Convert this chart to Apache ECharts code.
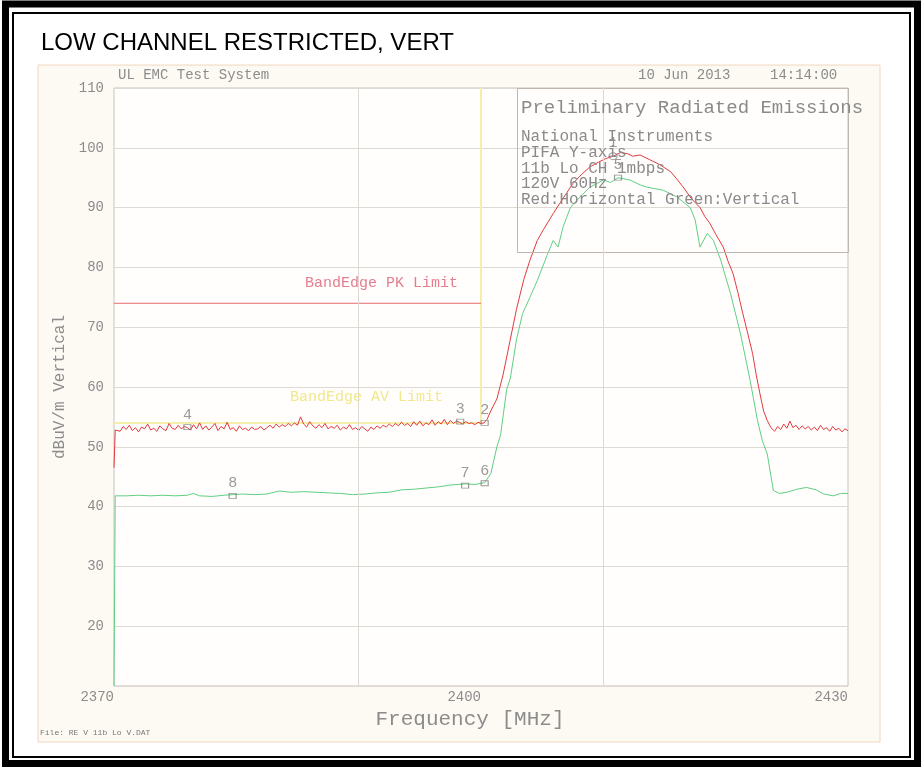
<!DOCTYPE html>
<html>
<head>
<meta charset="utf-8">
<script src="https://cdn.jsdelivr.net/npm/echarts@6/dist/echarts.min.js"></script>
<style>
html,body{margin:0;padding:0;background:#ffffff;}
#chart{width:923px;height:767px;}
</style>
</head>
<body>
<div id="chart"></div>
<script>
// ---- Data ----
const xTickLabels = [2370, 2400, 2430];
const xGridLines = [2390, 2410];
const yTickLabels = [20, 30, 40, 50, 60, 70, 80, 90, 100, 110];

// Red trace: Horizontal polarisation  [MHz, dBuV/m]
const redTrace = [
[2370.0,46.5],[2370.1,52.8],[2370.25,53.1],[2370.5,52.6],[2370.75,53.4],[2371.0,52.9],[2371.25,53.6],[2371.5,52.7],[2371.75,53.2],
[2372.0,52.5],[2372.25,53.3],[2372.5,53.0],[2372.75,53.8],[2373.0,52.8],[2373.25,53.1],[2373.5,52.6],[2373.75,53.5],
[2374.0,53.0],[2374.25,52.7],[2374.5,53.9],[2374.75,53.1],[2375.0,52.9],[2375.25,53.6],[2375.5,53.0],[2375.75,53.4],
[2376.0,53.2],[2376.25,52.8],[2376.5,53.7],[2376.75,53.0],[2377.0,54.0],[2377.25,52.9],[2377.5,53.5],[2377.75,52.8],
[2378.0,53.3],[2378.25,53.9],[2378.5,52.7],[2378.75,53.4],[2379.0,53.0],[2379.25,54.1],[2379.5,52.9],[2379.75,53.2],
[2380.0,52.6],[2380.25,53.5],[2380.5,52.9],[2380.75,53.1],[2381.0,52.7],[2381.25,53.3],[2381.5,52.9],[2381.75,53.0],
[2382.0,53.4],[2382.25,52.8],[2382.5,53.2],[2382.75,53.6],[2383.0,53.1],[2383.25,53.8],[2383.5,53.3],[2383.75,53.7],
[2384.0,53.4],[2384.25,53.9],[2384.5,53.5],[2384.75,54.0],[2385.0,53.6],[2385.25,55.0],[2385.5,53.8],[2385.75,53.3],
[2386.0,54.2],[2386.25,53.5],[2386.5,53.1],[2386.75,53.7],[2387.0,53.2],[2387.25,53.9],[2387.5,53.0],[2387.75,53.4],
[2388.0,53.1],[2388.25,53.6],[2388.5,52.8],[2388.75,53.3],[2389.0,53.0],[2389.25,53.7],[2389.5,52.9],[2389.75,53.2],
[2390.0,52.7],[2390.25,53.4],[2390.5,53.0],[2390.75,52.6],[2391.0,53.3],[2391.25,52.9],[2391.5,53.5],[2391.75,53.1],
[2392.0,53.6],[2392.25,53.3],[2392.5,53.8],[2392.75,53.4],[2393.0,53.9],[2393.25,53.5],[2393.5,54.1],[2393.75,53.6],
[2394.0,53.9],[2394.25,53.4],[2394.5,54.2],[2394.75,53.6],[2395.0,54.3],[2395.25,53.5],[2395.5,54.0],[2395.75,53.7],
[2396.0,54.5],[2396.25,53.6],[2396.5,54.2],[2396.75,53.8],[2397.0,54.6],[2397.25,53.7],[2397.5,54.4],[2397.75,53.9],
[2398.0,54.3],[2398.25,54.1],[2398.5,53.8],[2398.75,54.2],[2399.0,53.9],[2399.25,54.0],[2399.5,53.7],[2399.75,54.1],
[2400.0,53.9],[2400.25,54.0],[2400.5,54.6],[2400.8,56.0],[2401.3,58.0],[2401.8,62.0],[2402.3,67.0],[2402.9,73.0],
[2403.5,78.0],[2404.0,81.2],[2404.6,84.5],[2405.1,86.3],[2405.9,89.0],[2406.6,91.2],[2407.5,94.0],[2408.2,95.5],
[2408.9,96.8],[2409.6,97.6],[2410.2,98.2],[2410.8,98.6],[2411.4,99.2],[2412.0,99.0],[2412.4,98.6],[2413.0,98.8],
[2413.8,98.0],[2414.6,97.2],[2415.5,96.0],[2416.0,94.8],[2416.5,93.5],[2417.2,91.5],[2417.9,90.0],[2418.3,88.5],
[2418.7,87.4],[2419.2,85.5],[2419.8,83.4],[2420.2,81.0],[2420.6,79.0],[2421.0,75.8],[2421.4,72.3],[2421.8,69.0],
[2422.2,65.6],[2422.5,62.0],[2422.8,58.9],[2423.1,56.0],[2423.4,54.4],[2423.7,53.2],[2424.0,52.6],[2424.25,53.4],
[2424.5,52.9],[2424.75,53.8],[2425.0,53.1],[2425.25,54.3],[2425.5,53.2],[2425.75,53.6],[2426.0,52.9],[2426.25,53.5],
[2426.5,53.0],[2426.75,53.4],[2427.0,52.8],[2427.25,53.3],[2427.5,52.7],[2427.75,53.6],[2428.0,52.9],[2428.25,53.2],
[2428.5,52.6],[2428.75,53.4],[2429.0,52.8],[2429.25,53.1],[2429.5,52.5],[2429.75,53.0],[2430.0,52.7]
];

// Green trace: Vertical polarisation  [MHz, dBuV/m]
const greenTrace = [
[2370.0,10.0],[2370.1,41.8],[2371.0,41.8],[2372.0,41.9],[2373.0,41.8],[2374.0,41.9],[2375.0,41.8],[2376.0,41.9],
[2376.5,42.2],[2377.0,41.8],[2378.0,41.7],[2379.0,41.9],[2379.7,42.0],[2380.5,42.1],[2381.5,42.0],[2382.5,42.1],
[2383.5,42.6],[2384.5,42.4],[2385.5,42.5],[2386.5,42.4],[2387.5,42.3],[2388.5,42.2],[2389.5,42.0],[2390.5,42.1],
[2391.5,42.3],[2392.5,42.4],[2393.5,42.8],[2394.5,42.9],[2395.5,43.1],[2396.5,43.3],[2397.5,43.6],[2398.7,43.8],
[2399.5,43.7],[2400.3,44.0],[2400.8,45.5],[2401.3,50.0],[2401.6,52.0],[2402.1,59.6],[2402.4,61.5],[2402.9,67.9],
[2403.4,72.3],[2404.0,75.0],[2404.6,77.8],[2405.4,82.0],[2405.9,84.5],[2406.3,83.4],[2406.7,86.7],[2407.3,90.0],
[2408.1,91.8],[2408.9,93.4],[2410.0,94.6],[2410.6,94.2],[2411.2,95.0],[2412.2,94.6],[2413.0,93.8],[2413.6,93.4],
[2414.9,92.9],[2416.0,91.8],[2417.1,90.0],[2417.5,88.0],[2417.9,83.4],[2418.5,85.7],[2419.0,84.5],[2419.6,81.2],
[2420.4,75.6],[2421.2,69.0],[2422.0,61.1],[2422.6,54.4],[2423.0,51.0],[2423.4,48.8],[2423.9,42.7],[2424.4,42.2],
[2425.0,42.4],[2425.8,42.9],[2426.6,43.2],[2427.4,42.8],[2428.0,42.1],[2428.8,41.8],[2429.4,42.2],[2430.0,42.2]
];

// Limit lines
const pkLimitFreq = [2370, 2400];
const pkLimitLevel = [74, 74];
const avLimitFreq = [2370, 2400, 2400];
const avLimitLevel = [54, 54, 110];

// Markers
const markerLabel = ['1', '2', '3', '4', '5', '6', '7', '8'];
const markerFreq  = [2410.8, 2400.3, 2398.3, 2376.0, 2411.2, 2400.3, 2398.7, 2379.7];
const markerLevel = [98.6, 54.0, 54.2, 53.3, 95.0, 43.9, 43.5, 41.8];

// Info box text
const infoTitle = 'Preliminary Radiated Emissions';
const infoLines = ['National Instruments', 'PIFA Y-axis', '11b Lo CH 1mbps', '120V 60Hz', 'Red:Horizontal Green:Vertical'];

// ---- Chart ----
const MONO = '"Liberation Mono", "DejaVu Sans Mono", monospace';
const GREY = '#8c8c8c';
const GRID = '#dfd9d3';

const chart = echarts.init(document.getElementById('chart'), null, {renderer: 'canvas'});

const zip = (a, b) => a.map((v, i) => [v, b[i]]);

const markerData = markerFreq.map((f, i) => ({
  value: [f, markerLevel[i], markerLabel[i]],
  symbol: markerLabel[i] === '1' ? 'circle' : 'rect',
  symbolSize: markerLabel[i] === '1' ? [8, 7] : [7, 5]
}));

const infoTexts = infoLines.map((t, i) => ({
  type: 'text', z: 100,
  style: {text: t, x: 521, y: 137 + i * 15.7, font: '16px ' + MONO, fill: '#8a8a8a', verticalAlign: 'middle'}
}));

const option = {
  animation: false,
  backgroundColor: '#ffffff',
  graphic: [
    {type: 'rect', z: -10, shape: {x: 38, y: 65, width: 842, height: 677}, style: {fill: '#fdf9f3', stroke: '#f1d6bf', lineWidth: 1}},
    {type: 'rect', z: 100, shape: {x: 5.5, y: 4, width: 912, height: 759.5}, style: {fill: 'none', stroke: '#000', lineWidth: 7}},
    {type: 'rect', z: 100, shape: {x: 13, y: 13, width: 897, height: 744}, style: {fill: 'none', stroke: '#000', lineWidth: 2}},
    {type: 'text', z: 100, style: {text: 'LOW CHANNEL RESTRICTED, VERT', x: 41, y: 43, font: '24px "Liberation Sans", Arial, sans-serif', fill: '#000', verticalAlign: 'middle'}},
    {type: 'text', z: 100, style: {text: 'UL EMC Test System', x: 118, y: 75, font: '14px ' + MONO, fill: GREY, verticalAlign: 'middle'}},
    {type: 'text', z: 100, style: {text: '10 Jun 2013', x: 638, y: 75, font: '14px ' + MONO, fill: GREY, verticalAlign: 'middle'}},
    {type: 'text', z: 100, style: {text: '14:14:00', x: 770, y: 75, font: '14px ' + MONO, fill: GREY, verticalAlign: 'middle'}},
    {type: 'rect', z: 5, shape: {x: 517.5, y: 88.5, width: 331, height: 164}, style: {fill: 'none', stroke: '#bfb7af', lineWidth: 1}},
    {type: 'text', z: 100, style: {text: infoTitle, x: 521, y: 108, font: '19px ' + MONO, fill: '#8a8a8a', verticalAlign: 'middle'}},
    ...infoTexts,
    {type: 'text', z: 100, style: {text: 'BandEdge PK Limit', x: 305, y: 283, font: '15px ' + MONO, fill: '#e47d8e', verticalAlign: 'middle'}},
    {type: 'text', z: 100, style: {text: 'BandEdge AV Limit', x: 290, y: 397, font: '15px ' + MONO, fill: '#f1e78c', verticalAlign: 'middle'}},
    {type: 'text', z: 100, style: {text: 'File: RE V 11b Lo V.DAT', x: 40, y: 733, font: '8px ' + MONO, fill: '#777', verticalAlign: 'middle'}}
  ],
  grid: {left: 114, right: 75, top: 88, bottom: 81, show: true, backgroundColor: '#fffefc', borderColor: '#c9c2bb', borderWidth: 1},
  xAxis: {
    type: 'value', min: 2370, max: 2430, interval: 30,
    axisLine: {show: false}, axisTick: {show: false}, splitLine: {show: false},
    axisLabel: {fontFamily: MONO, fontSize: 14, color: GREY, align: 'right', margin: 4,
      formatter: v => xTickLabels.indexOf(v) >= 0 ? String(v) : ''},
    name: 'Frequency [MHz]', nameLocation: 'middle', nameGap: 23,
    nameTextStyle: {fontFamily: MONO, fontSize: 21, color: GREY, padding: [0, 22, 0, 0]}
  },
  yAxis: {
    type: 'value', min: 10, max: 110, interval: 10,
    axisLine: {show: false}, axisTick: {show: false},
    splitLine: {show: true, lineStyle: {color: GRID, width: 1}},
    axisLabel: {fontFamily: MONO, fontSize: 14, color: GREY, margin: 10,
      formatter: v => yTickLabels.indexOf(v) >= 0 ? String(v) : ''},
    name: 'dBuV/m Vertical', nameLocation: 'middle', nameGap: 45, nameRotate: 90,
    nameTextStyle: {fontFamily: MONO, fontSize: 16, color: GREY}
  },
  series: [
    {
      type: 'line', data: [], z: 1, silent: true,
      markLine: {silent: true, symbol: 'none', label: {show: false},
        lineStyle: {color: GRID, type: 'solid', width: 1},
        data: xGridLines.map(f => ({xAxis: f}))}
    },
    {
      name: 'AV Limit', type: 'line', data: zip(avLimitFreq, avLimitLevel), z: 2,
      showSymbol: false, lineStyle: {color: '#f4eea8', width: 2}, silent: true
    },
    {
      name: 'PK Limit', type: 'line', data: zip(pkLimitFreq, pkLimitLevel), z: 2,
      showSymbol: false, lineStyle: {color: '#e46c6e', width: 1}, silent: true
    },
    {
      name: 'Vertical', type: 'line', data: greenTrace, z: 3,
      showSymbol: false, lineStyle: {color: '#5fcf82', width: 1}, silent: true
    },
    {
      name: 'Horizontal', type: 'line', data: redTrace, z: 4,
      showSymbol: false, lineStyle: {color: '#e23a3e', width: 1}, silent: true
    },
    {
      name: 'Markers', type: 'scatter', data: markerData, z: 6, silent: true,
      itemStyle: {color: 'rgba(0,0,0,0)', borderColor: '#808080', borderWidth: 1},
      label: {show: true, position: 'top', distance: 2, formatter: p => p.value[2],
        fontFamily: MONO, fontSize: 15, color: '#808080'}
    }
  ]
};
chart.setOption(option);
</script>
</body>
</html>
